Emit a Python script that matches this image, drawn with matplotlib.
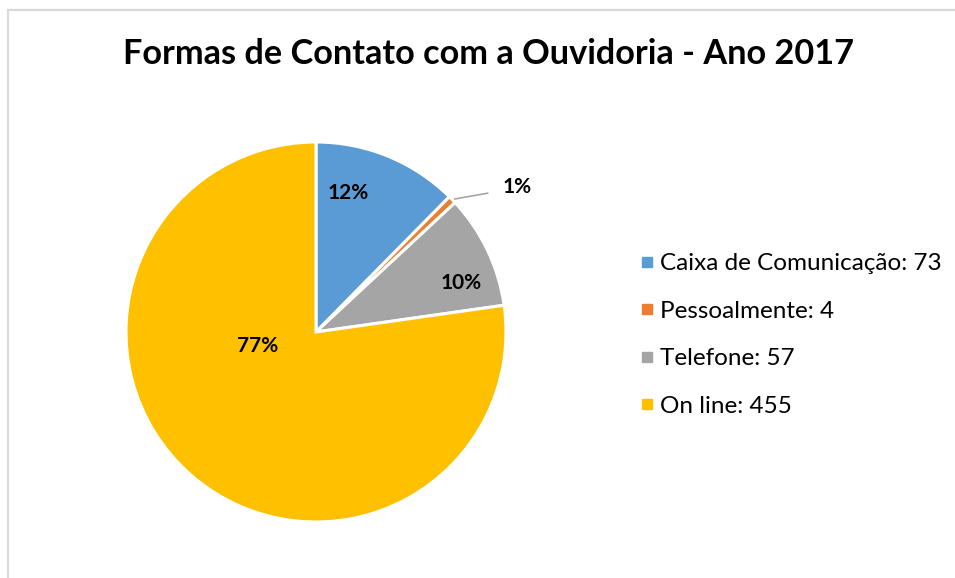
import matplotlib.pyplot as plt
import numpy as np

categorias = ["Caixa de Comunicação", "Pessoalmente", "Telefone", "On line"]
valores = [73, 4, 57, 455]
cores = ["#5B9BD5", "#ED7D31", "#A5A5A5", "#FFC000"]

plt.rcParams["font.family"] = ["Lato", "DejaVu Sans"]

fig = plt.figure(figsize=(9.55, 5.78), dpi=100)

# borda cinza do grafico (Excel)
borda = plt.Rectangle((7.5 / 955, -0.1), 1.2, (578 - 10) / 578 + 0.1,
                      transform=fig.transFigure, fill=False,
                      edgecolor="#d9d9d9", linewidth=1.6)
fig.patches.append(borda)

fig.text(488 / 955, 1 - 54 / 578, "Formas de Contato com a Ouvidoria - Ano 2017",
         ha="center", va="center", fontsize=24.7, fontweight="bold", color="black")

ax = fig.add_axes([126 / 955, 56 / 578, 380 / 955, 380 / 578])
wedges, _ = ax.pie(valores, colors=cores, startangle=90, counterclock=False,
                   radius=1, wedgeprops=dict(edgecolor="white", linewidth=2.2))
ax.set_xlim(-1, 1)
ax.set_ylim(-1, 1)
ax.set_aspect("equal")
ax.axis("off")

total = sum(valores)
pcts = [f"{round(v / total * 100):.0f}%" for v in valores]

# posicoes dos rotulos (estilo "melhor ajuste" do Excel)
pos_rotulos = [(0.17, 0.73), None, (0.765, 0.26), (-0.305, -0.075)]
for p, pos in zip(pcts, pos_rotulos):
    if pos is not None:
        ax.text(pos[0], pos[1], p, ha="center", va="center",
                fontsize=15, fontweight="bold", color="black")

# rotulo com linha de chamada para a fatia pequena
ax.annotate(pcts[1], xy=(0.73, 0.70), xytext=(1.06, 0.765),
            ha="center", va="center", fontsize=15, fontweight="bold",
            arrowprops=dict(arrowstyle="-", color="#a6a6a6", lw=1.2,
                            shrinkA=9, shrinkB=0,
                            connectionstyle="angle,angleA=180,angleB=10,rad=4"))

handles = [plt.Line2D([], [], marker="s", linestyle="none", markersize=7.5,
                      markerfacecolor=c, markeredgecolor=c) for c in cores]
rotulos = [f"{c}: {v}" for c, v in zip(categorias, valores)]
fig.legend(handles, rotulos, loc="center left",
           bbox_to_anchor=(630 / 955, 1 - 335 / 578), frameon=False,
           fontsize=17.5, handlelength=0.6, handletextpad=0.25,
           labelspacing=1.09, borderaxespad=0)

fig.savefig("out.png", dpi=100)
